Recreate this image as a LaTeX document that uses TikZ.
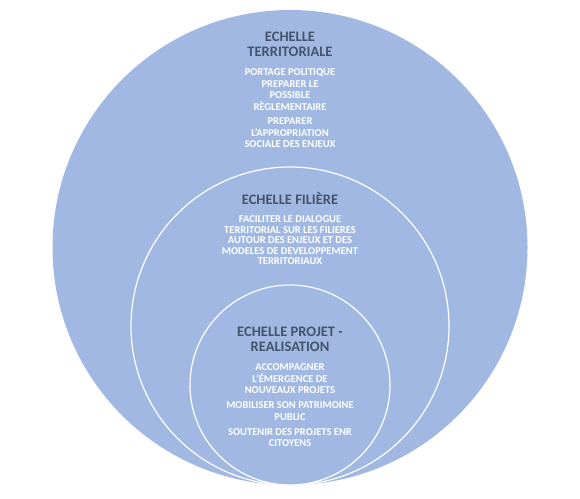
\documentclass[tikz,border=0pt]{standalone}
\usepackage{fontspec}
\setmainfont{Carlito}
\usepackage{tikz}
\usetikzlibrary{positioning}
\definecolor{ringblue}{RGB}{161,185,226}
\definecolor{titlegray}{RGB}{68,84,106}

\begin{document}
\begin{tikzpicture}[x=1pt,y=-1pt,
  ring/.style={fill=ringblue,draw=white,line width=1.2pt},
  title/.style={align=center,text=titlegray,font=\bfseries\fontsize{14.5}{14.5}\selectfont,inner sep=0pt},
  body/.style={align=center,text=white,font=\bfseries\fontsize{10.5}{11.5}\selectfont,inner sep=0pt}]
\useasboundingbox (0,0) rectangle (580,498);

\fill[ringblue] (290,247.5) circle[radius=237.5pt];
\draw[ring] (290,326) circle[radius=159pt];
\draw[ring] (290,385) circle[radius=100pt];

\node[title] (terrtitle) at (290,44.5) {ECHELLE\\TERRITORIALE};
\node[body,below=12pt of terrtitle] (terrbody)
  {PORTAGE POLITIQUE\\PREPARER LE\\POSSIBLE\\RÈGLEMENTAIRE\\[3pt]
   PREPARER\\L'APPROPRIATION\\SOCIALE DES ENJEUX};

\node[title] (filtitle) at (290,198) {ECHELLE FILIÈRE};
\node[body,font=\bfseries\fontsize{10.5}{10.6}\selectfont,below=11pt of filtitle] (filbody)
  {FACILITER LE DIALOGUE\\TERRITORIAL SUR LES FILIERES\\AUTOUR DES ENJEUX ET DES\\MODELES DE DEVELOPPEMENT\\TERRITORIAUX};

\node[title] (projtitle) at (290,339.5) {ECHELLE PROJET -\\REALISATION};
\node[body,below=12pt of projtitle] (projbody)
  {ACCOMPAGNER\\L'ÉMERGENCE DE\\NOUVEAUX PROJETS\\[3.5pt]
   MOBILISER SON PATRIMOINE\\PUBLIC\\[3.5pt]
   SOUTENIR DES PROJETS ENR\\CITOYENS};
\end{tikzpicture}
\end{document}
